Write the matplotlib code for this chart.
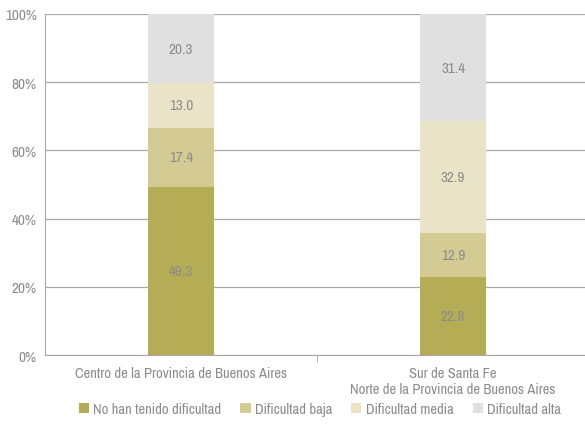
import matplotlib.pyplot as plt
from matplotlib import font_manager
from matplotlib.patches import Patch

categories = ["Centro de la Provincia de Buenos Aires",
              "Sur de Santa Fe\nNorte de la Provincia de Buenos Aires"]
series_names = ["No han tenido dificultad", "Dificultad baja",
                "Dificultad media", "Dificultad alta"]
no_dificultad = [49.3, 22.8]
baja = [17.4, 12.9]
media = [13.0, 32.9]
alta = [20.3, 31.4]

COLORS = ["#b5ad55", "#d3cb93", "#e9e4c7", "#e0e0e0"]
TEXT = "#8c8c8c"
LINE = "#a8a8a8"

# condensed face if one is installed
names = sorted({f.name for f in font_manager.fontManager.ttflist})
narrow = [n for n in names if "Narrow" in n or "Condensed" in n]
plt.rcParams["font.family"] = narrow[:1] + ["DejaVu Sans"]

fig = plt.figure(figsize=(5.85, 4.27), dpi=100)
ax = fig.add_axes([0.077, 0.166, 0.93, 0.799])

x = [0, 1]
bottom = [0.0, 0.0]
for name, vals, color in zip(series_names, [no_dificultad, baja, media, alta], COLORS):
    ax.bar(x, vals, bottom=bottom, width=0.243, color=color, zorder=2)
    for xi, v, b in zip(x, vals, bottom):
        ax.text(xi, b + v / 2, f"{v:.1f}", ha="center", va="center",
                fontsize=11, color=TEXT, zorder=3)
    bottom = [b + v for b, v in zip(bottom, vals)]

ax.set_xlim(-0.5, 1.5)
ax.set_ylim(0, 100)
ax.set_yticks(range(0, 101, 20))
ax.set_yticklabels([f"{t}%" for t in range(0, 101, 20)])
ax.yaxis.grid(True, color=LINE, linewidth=0.9, zorder=0)
ax.set_axisbelow(True)

ax.set_xticks(x)
ax.set_xticklabels(categories)
ax.set_xticks([0.5], minor=True)
ax.tick_params(axis="x", which="major", length=0, pad=8, labelsize=10.5, labelcolor=TEXT)
ax.tick_params(axis="x", which="minor", length=5, color=LINE)
ax.tick_params(axis="y", length=0, pad=6, labelsize=11, labelcolor=TEXT)

for s in ["top", "right"]:
    ax.spines[s].set_visible(False)
for s in ["left", "bottom"]:
    ax.spines[s].set_color(LINE)

handles = [Patch(facecolor=c, edgecolor="none", label=n) for n, c in zip(series_names, COLORS)]
fig.legend(handles=handles, loc="center", bbox_to_anchor=(0.547, 0.04), ncol=4,
           frameon=False, fontsize=10.5, labelcolor=TEXT, handlelength=0.7,
           handleheight=0.7, handletextpad=0.3, columnspacing=1.3)

fig.savefig("out.png", dpi=100)
